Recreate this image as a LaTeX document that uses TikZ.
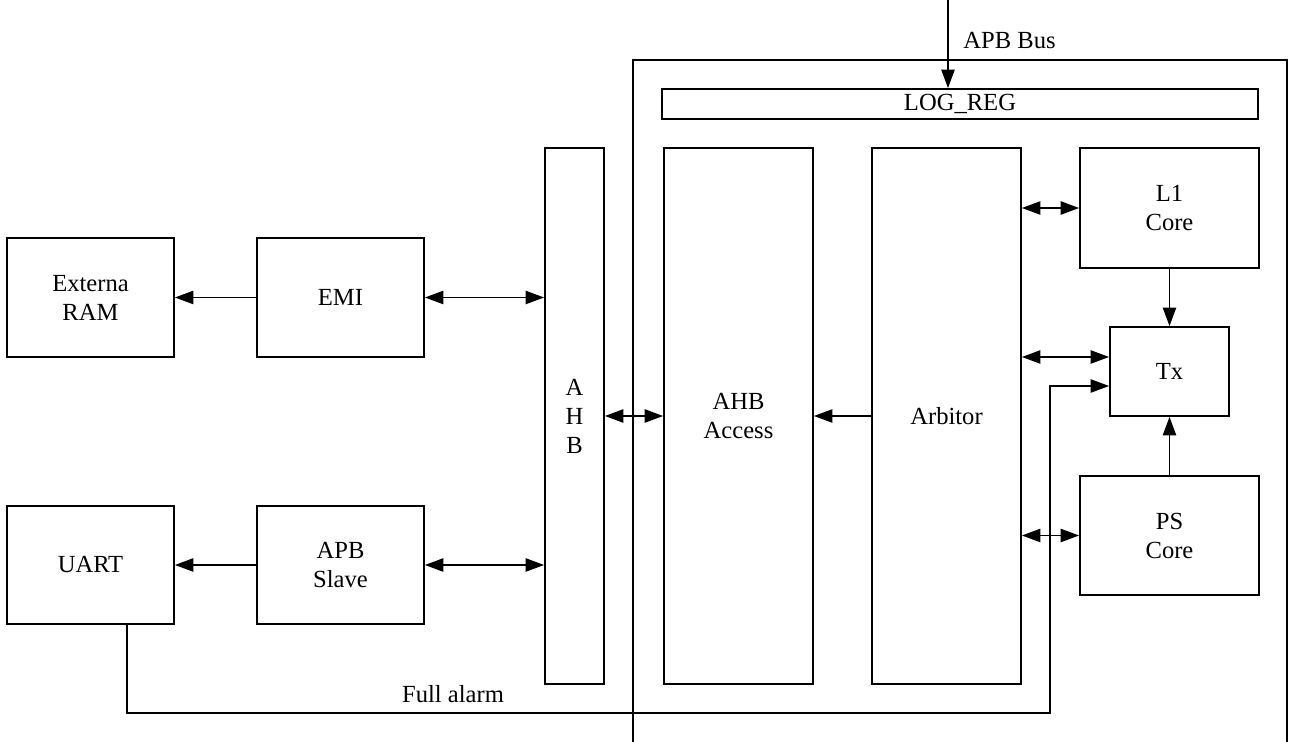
\documentclass[tikz,border=0pt]{standalone}
\usepackage{fontspec}
\setmainfont{Liberation Serif}
\usetikzlibrary{arrows.meta,calc}
\tikzset{
  unit/.style={
    draw=black,
    line width=1pt,
    rectangle,
    inner sep=0pt,
    align=center,
    font=\fontsize{14}{16.5}\selectfont
  },
  link/.style={line width=1pt},
  lbl/.style={inner sep=0pt, font=\fontsize{14}{16.5}\selectfont}
}

\begin{document}
\begin{tikzpicture}[x=0.02cm, y=-0.02cm, >={Triangle[length=10.5pt,width=7.5pt]}]
  \useasboundingbox (0,0) rectangle (1289,742);
  % chip frame, open at the bottom
  \draw[link] (633,742) |- (1287,60) -- (1287,742);

  \node[unit, minimum width=3.34cm, minimum height=2.38cm] (ram) at (90.5,297.5) {Externa\\RAM};
  \node[unit, minimum width=3.34cm, minimum height=2.38cm] (emi) at (340.5,297.5) {EMI};
  \node[unit, minimum width=3.34cm, minimum height=2.36cm] (uart) at (90.5,565) {UART};
  \node[unit, minimum width=3.34cm, minimum height=2.36cm] (apbs) at (340.5,565) {APB\\Slave};
  \node[unit, minimum width=1.18cm, minimum height=10.72cm] (ahb) at (574.5,416) {A\\H\\B};
  \node[unit, minimum width=2.98cm, minimum height=10.72cm] (acc) at (738.5,416) {AHB\\Access};
  \node[unit, minimum width=2.98cm, minimum height=10.72cm] (arb) at (946.5,416) {Arbitor};
  \node[unit, minimum width=11.92cm, minimum height=0.6cm] (logreg) at (960,104) {LOG\_REG};
  \node[unit, minimum width=3.58cm, minimum height=2.4cm] (l1) at (1169.5,208) {L1\\Core};
  \node[unit, minimum width=2.38cm, minimum height=1.78cm] (tx) at (1169.5,371.5) {Tx};
  \node[unit, minimum width=3.58cm, minimum height=2.38cm] (ps) at (1169.5,535.5) {PS\\Core};

  \coordinate (bus) at (948,0);
  \node[lbl, anchor=west] (buslbl) at (963,41) {APB Bus};
  \draw[link, ->] (bus) -- (bus |- logreg.north);

  \draw[link, ->] (emi) -- (ram);
  \draw[link, <->] (emi.east) -- (emi.east -| ahb.west);
  \draw[link, ->] (apbs) -- (uart);
  \draw[link, <->] (apbs.east) -- (apbs.east -| ahb.west);
  \draw[link, <->] (ahb) -- (acc);
  \draw[link, ->] (arb) -- (acc);

  \coordinate (txa) at ($(tx.west)+(0,-14.5)$);
  \coordinate (txb) at ($(tx.west)+(0,14.5)$);
  \draw[link, <->] (l1.west -| arb.east) -- (l1.west);
  \draw[link, <->] (txa -| arb.east) -- (txa);
  \draw[link, <->] (ps.west -| arb.east) -- (ps.west);
  \draw[link, ->] (l1) -- (tx);
  \draw[link, ->] (ps) -- (tx);

  % full alarm path from UART into Tx
  \coordinate (ua) at ($(uart.south)+(36.5,0)$);
  \coordinate (turn) at (1050,713);
  \draw[link, ->] (ua) |- (turn) |- (txb);
  \node[lbl] (alarmlbl) at (453,694) {Full alarm};
\end{tikzpicture}
\end{document}
